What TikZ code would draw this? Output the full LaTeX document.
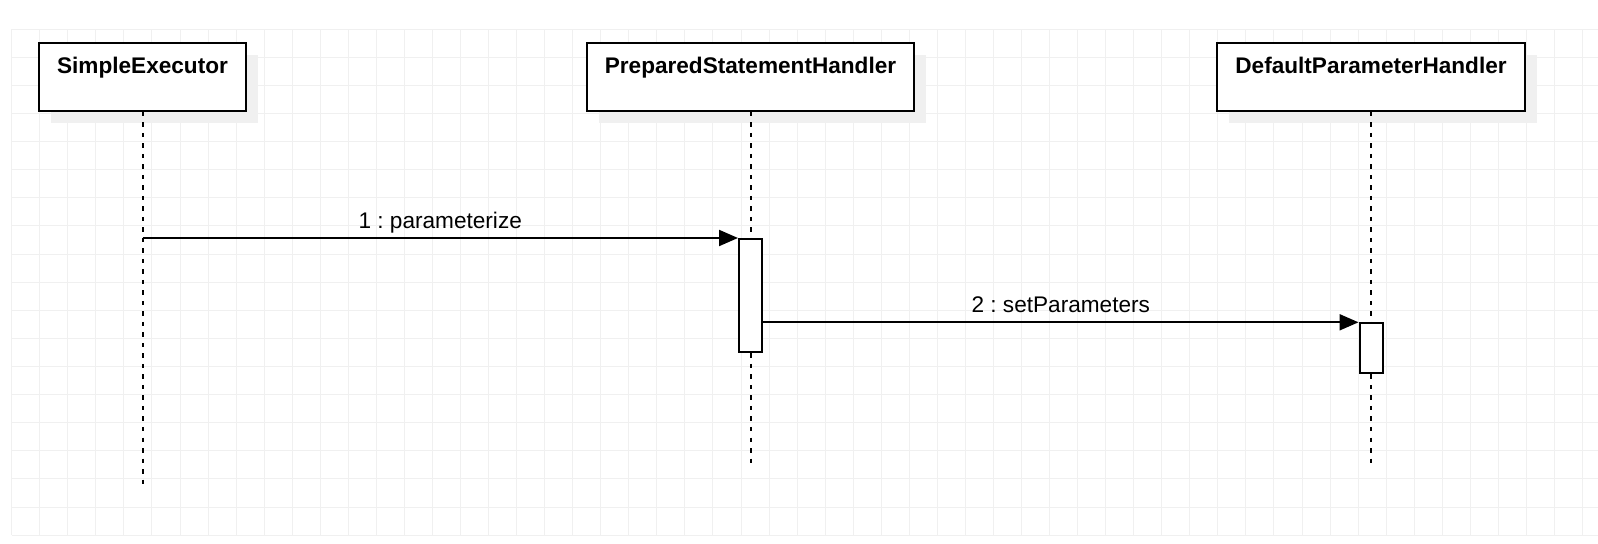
\documentclass[tikz,border=0pt]{standalone}
\usepackage{fontspec}
\setmainfont{Liberation Sans}
\usetikzlibrary{arrows.meta}
\usetikzlibrary{shadows}
\usetikzlibrary{positioning}
\frenchspacing

\begin{document}
\begin{tikzpicture}[x=0.5pt,y=-0.5pt,
    font=\fontsize{11.3}{13.5}\selectfont,
    gridline/.style={draw=gray!12,line width=0.5pt},
    object/.style={draw=black,line width=1pt,fill=white,minimum height=34pt,inner sep=0pt,
        drop shadow={shadow xshift=6pt,shadow yshift=-6pt,fill=gray!12,opacity=1}},
    objtitle/.style={anchor=base,yshift=-16pt,font=\fontsize{11.3}{13.5}\selectfont\bfseries},
    lifeline/.style={draw=black,line width=1pt,dash pattern=on 2.25pt off 3pt},
    activation/.style={draw=black,line width=1pt,fill=white,minimum width=11.5pt,inner sep=0pt},
    msg/.style={draw=black,line width=1pt,-{Triangle[length=9.5pt,width=8pt]}},
    msglabel/.style={midway,anchor=base,yshift=4.75pt}]

    \useasboundingbox (0,0) rectangle (1598,544);

    % Background grid
    \foreach \i in {0,...,56}
        \draw[gridline] (11.7+\i*28.05,29.3) -- (11.7+\i*28.05,535);
    \foreach \j in {0,...,18}
        \draw[gridline] (11.7,29.3+\j*28.1) -- (1598,29.3+\j*28.1);

    % Objects and lifelines
    \node[object,minimum width=103.3pt,label={[objtitle]north:SimpleExecutor}] (SE) at (142.5,77) {};
    \node[object,minimum width=163.7pt,label={[objtitle]north:PreparedStatementHandler}] (PSH) at (750.5,77) {};
    \node[object,minimum width=153.9pt,label={[objtitle]north:DefaultParameterHandler}] (DPH) at (1371,77) {};

    \coordinate (SE-end) at (142.5,486);
    \coordinate (PSH-end) at (750.5,464);
    \coordinate (DPH-end) at (1371,464);

    \draw[lifeline] (SE.south) -- (SE-end);
    \draw[lifeline] (PSH.south) -- (PSH-end);
    \draw[lifeline] (DPH.south) -- (DPH-end);

    % Activation bars
    \node[activation,minimum height=56.5pt] (PSH-act) at (750.5,295.5) {};
    \node[activation,minimum height=25pt] (DPH-act) at (1371,348.3) {};

    % Messages
    \draw[msg] (SE.south |- PSH-act.north west) -- node[msglabel] {1 : parameterize} (PSH-act.north west);
    \draw[msg] (PSH-act.east |- DPH-act.north west) -- node[msglabel] {2 : setParameters} (DPH-act.north west);

\end{tikzpicture}
\end{document}
